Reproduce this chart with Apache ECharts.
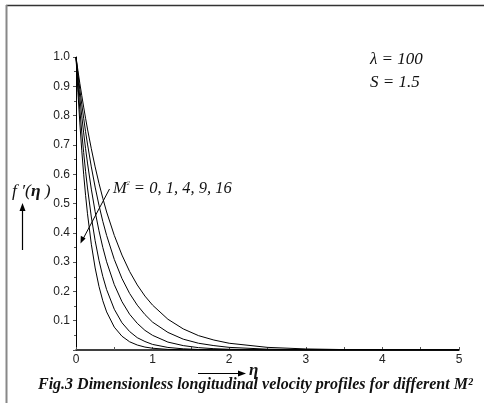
<!DOCTYPE html>
<html><head><meta charset="utf-8">
<script src="https://cdn.jsdelivr.net/npm/echarts@6/dist/echarts.min.js"></script>
<style>html,body{margin:0;padding:0;background:#fff}#c{width:484px;height:403px}</style>
</head><body><div id="c"></div>
<script>
// eta sample points
const eta = [0, 0.025, 0.05, 0.075, 0.1, 0.125, 0.15, 0.2, 0.25, 0.3, 0.35, 0.4, 0.5, 0.6, 0.7, 0.8, 0.9, 1.0, 1.2, 1.4, 1.6, 1.8, 2.0, 2.5, 3.0, 3.5, 4.0, 5.0];
// f'(eta), M^2 = 16, 9, 4, 1, 0 (left to right)
const fM16 = [1, 0.880, 0.775, 0.682, 0.600, 0.528, 0.465, 0.361, 0.280, 0.217, 0.168, 0.130, 0.078, 0.047, 0.028, 0.017, 0.010, 0.006, 0.002, 0.001, 0.0003, 0.0001, 0, 0, 0, 0, 0, 0];
const fM9  = [1, 0.906, 0.821, 0.744, 0.674, 0.610, 0.553, 0.454, 0.373, 0.306, 0.251, 0.206, 0.139, 0.093, 0.063, 0.042, 0.029, 0.019, 0.0087, 0.004, 0.0018, 0.0008, 0.0004, 0.0001, 0, 0, 0, 0];
const fM4  = [1, 0.928, 0.861, 0.799, 0.741, 0.687, 0.638, 0.549, 0.472, 0.407, 0.350, 0.301, 0.223, 0.165, 0.122, 0.091, 0.067, 0.050, 0.027, 0.015, 0.008, 0.0045, 0.0025, 0.0006, 0.0001, 0, 0, 0];
const fM1  = [1, 0.943, 0.889, 0.839, 0.791, 0.745, 0.703, 0.625, 0.556, 0.494, 0.439, 0.391, 0.309, 0.244, 0.193, 0.153, 0.121, 0.095, 0.060, 0.037, 0.023, 0.015, 0.009, 0.0028, 0.0009, 0.0003, 0.0001, 0];
const fM0  = [1, 0.954, 0.910, 0.869, 0.829, 0.791, 0.754, 0.687, 0.625, 0.569, 0.518, 0.471, 0.391, 0.324, 0.268, 0.222, 0.184, 0.153, 0.105, 0.072, 0.049, 0.034, 0.023, 0.009, 0.0036, 0.0014, 0.0005, 0.0001];
const seriesList = [fM16, fM9, fM4, fM1, fM0];
const xTicks = [0, 1, 2, 3, 4, 5];
const yTicks = [0.1, 0.2, 0.3, 0.4, 0.5, 0.6, 0.7, 0.8, 0.9, 1.0];

const chart = echarts.init(document.getElementById('c'), null, {renderer: 'canvas'});
const serif = '"Liberation Serif","Times New Roman",serif';
const sans = '"Liberation Sans",Arial,sans-serif';

chart.setOption({
  animation: false,
  backgroundColor: '#fff',
  grid: {left: 76, right: 25, top: 57, bottom: 53, containLabel: false},
  xAxis: {
    type: 'value', min: 0, max: 5, interval: 1,
    axisLine: {lineStyle: {color: '#000', width: 1.5}},
    axisTick: {show: true, inside: true, length: 3, lineStyle: {color: '#555'}},
    minorTick: {show: true, splitNumber: 2, length: 3, lineStyle: {color: '#555'}},
    splitLine: {show: false},
    axisLabel: {color: '#222', fontFamily: sans, fontSize: 12, margin: 4,
      formatter: v => xTicks.includes(v) ? String(v) : ''}
  },
  yAxis: {
    type: 'value', min: 0, max: 1, interval: 0.1,
    axisLine: {show: true, lineStyle: {color: '#000', width: 1}},
    axisTick: {show: true, length: 3, lineStyle: {color: '#555'}},
    minorTick: {show: true, splitNumber: 2, length: 2, lineStyle: {color: '#555'}},
    splitLine: {show: false},
    axisLabel: {color: '#222', fontFamily: sans, fontSize: 12, margin: 6,
      formatter: v => { const t = yTicks.find(k => Math.abs(k - v) < 1e-6); return t === undefined ? '' : t.toFixed(1); }}
  },
  series: seriesList.map(arr => ({
    type: 'line', smooth: false, showSymbol: false, symbol: 'none',
    lineStyle: {color: '#000', width: 1},
    data: eta.map((e, i) => [e, arr[i]])
  })),
  graphic: [
    // frame
    {type: 'line', shape: {x1: 6, y1: 5.5, x2: 484, y2: 5.5}, style: {stroke: '#333', lineWidth: 1.5}},
    {type: 'line', shape: {x1: 6.5, y1: 5, x2: 6.5, y2: 403}, style: {stroke: '#888', lineWidth: 2}},
    // parameter texts
    {type: 'text', left: 370, top: 51, style: {text: 'λ = 100', font: 'italic 17px ' + serif, fill: '#111'}},
    {type: 'text', left: 370, top: 74, style: {text: 'S = 1.5', font: 'italic 17px ' + serif, fill: '#111'}},
    // M^2 annotation
    {type: 'text', left: 113, top: 180, style: {
      text: '{m|M}{s|2}{m| = 0, 1, 4, 9, 16}',
      rich: {m: {font: 'italic 16.5px ' + serif, fill: '#111'}, s: {font: 'italic 6px ' + serif, fill: '#111', verticalAlign: 'top', padding: [0,0,6,0]}}
    }},
    {type: 'line', shape: {x1: 109.5, y1: 189, x2: 83, y2: 239}, style: {stroke: '#000', lineWidth: 1}},
    {type: 'polygon', shape: {points: [[80.5, 243.5], [80.8, 235.8], [85.6, 238.4]]}, style: {fill: '#000'}},
    // y label f'(eta)
    {type: 'text', left: 12, top: 182, style: {
      text: '{a|f \u2032(}{b|η}{a| )}',
      rich: {a: {font: 'italic 17.5px ' + serif, fill: '#111'}, b: {font: 'italic bold 17.5px ' + serif, fill: '#111'}}
    }},
    {type: 'line', shape: {x1: 22.5, y1: 250, x2: 22.5, y2: 210}, style: {stroke: '#000', lineWidth: 1.2}},
    {type: 'polygon', shape: {points: [[22.5, 203], [19.5, 211], [25.5, 211]]}, style: {fill: '#000'}},
    // x label eta with arrow
    {type: 'line', shape: {x1: 198, y1: 373.5, x2: 239, y2: 373.5}, style: {stroke: '#000', lineWidth: 1.2}},
    {type: 'polygon', shape: {points: [[246, 373.5], [238, 370.5], [238, 376.5]]}, style: {fill: '#000'}},
    {type: 'text', left: 249, top: 362, style: {text: 'η', font: 'italic bold 17px ' + serif, fill: '#111'}},
    // caption
    {type: 'text', left: 38, top: 377, style: {text: 'Fig.3 Dimensionless longitudinal velocity profiles for different M²', font: 'italic bold 16px ' + serif, fill: '#111'}}
  ]
});
</script></body></html>
